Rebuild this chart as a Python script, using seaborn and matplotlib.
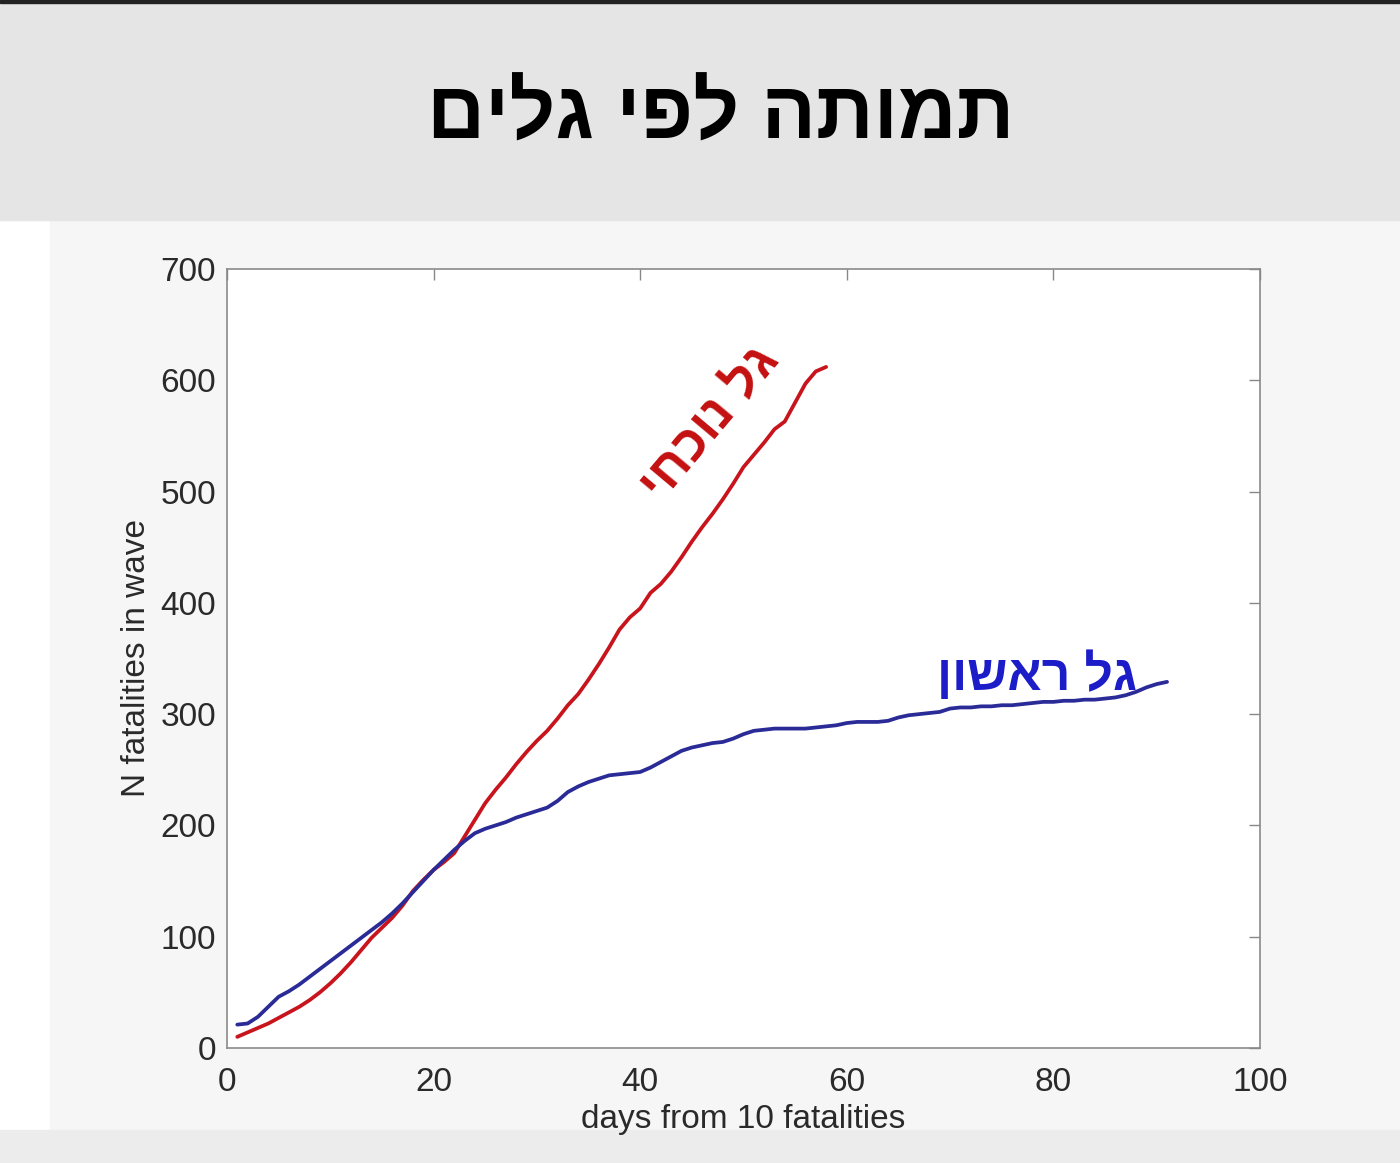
import matplotlib
matplotlib.use('Agg')
import matplotlib.pyplot as plt
from matplotlib.patches import Rectangle
import seaborn as sns
import pandas as pd

# days from 10 fatalities, cumulative fatalities
first_wave = [21, 22, 28, 37, 46, 51, 57, 64, 71, 78, 85, 92, 99, 106, 113,
              121, 130, 140, 150, 160, 169, 178, 186, 193, 197, 200, 203, 207,
              210, 213, 216, 222, 230, 235, 239, 242, 245, 246, 247, 248, 252,
              257, 262, 267, 270, 272, 274, 275, 278, 282, 285, 286, 287, 287,
              287, 287, 288, 289, 290, 292, 293, 293, 293, 294, 297, 299, 300,
              301, 302, 305, 306, 306, 307, 307, 308, 308, 309, 310, 311, 311,
              312, 312, 313, 313, 314, 315, 317, 320, 324, 327, 329]
current_wave = [10, 14, 18, 22, 27, 32, 37, 43, 50, 58, 67, 77, 88, 99, 108,
                117, 128, 141, 151, 160, 167, 175, 190, 205, 220, 232, 243,
                255, 266, 276, 285, 296, 308, 318, 331, 345, 360, 376, 387,
                395, 409, 417, 428, 441, 455, 468, 480, 493, 507, 522, 533,
                544, 556, 563, 580, 597, 608, 612]

title = "תמותה לפי גלים"
label_current = "גל נוכחי"
label_first = "גל ראשון"
x_label = "days from 10 fatalities"
y_label = "N fatalities in wave"
x_ticks = [0, 20, 40, 60, 80, 100]
y_ticks = [0, 100, 200, 300, 400, 500, 600, 700]


def visual(s):
    # matplotlib lays text out left to right, so flip the Hebrew by hand
    return s[::-1]


df = pd.concat([
    pd.DataFrame({'day': range(1, len(first_wave) + 1), 'n': first_wave, 'wave': 'first'}),
    pd.DataFrame({'day': range(1, len(current_wave) + 1), 'n': current_wave, 'wave': 'current'}),
])

sns.set_theme(style="white")
plt.rcParams['font.family'] = ['Liberation Sans', 'DejaVu Sans']

fig = plt.figure(figsize=(14, 11.63), dpi=100)
fig.patch.set_facecolor('white')
# slide background pieces, kept behind the axes
bg = [((0.036, 0.028), 0.964, 0.783, '#f6f6f6'),
      ((0, 0.811), 1, 0.186, '#e6e5e6'),
      ((0, 0.997), 1, 0.003, '#222222'),
      ((0, 0), 1, 0.028, '#ececec')]
for xy, w, h, c in bg:
    fig.patches.append(Rectangle(xy, w, h, transform=fig.transFigure,
                                 color=c, zorder=-10))

fig.text(0.515, 0.899, visual(title), ha='center', va='center',
         fontsize=58, fontweight='bold', color='black')

ax = fig.add_axes([0.1621, 0.0989, 0.7379, 0.6698])
ax.set_facecolor('white')
sns.lineplot(data=df, x='day', y='n', hue='wave',
             palette={'first': '#2b2b98', 'current': '#c8141c'},
             hue_order=['current', 'first'], linewidth=2.7, legend=False, ax=ax)

ax.set_xlim(0, 100)
ax.set_ylim(0, 700)
ax.set_xticks(x_ticks)
ax.set_yticks(y_ticks)
ax.tick_params(direction='in', length=8, width=1, color='#888888',
               top=True, right=True, labelsize=24, labelcolor='#2a2a2a', pad=8)
ax.tick_params(axis='x', pad=14)
for sp in ax.spines.values():
    sp.set_visible(True)
    sp.set_color('#8a8a8a')
    sp.set_linewidth(1.2)
ax.set_xlabel(x_label, fontsize=24, color='#2a2a2a', labelpad=4)
ax.set_ylabel(y_label, fontsize=24, color='#2a2a2a', labelpad=6)

ax.text(46.8, 561, visual(label_current), rotation=50, ha='center', va='center',
        fontsize=37, fontweight='bold', color='#c41010')
ax.text(78.4, 335, visual(label_first), ha='center', va='center',
        fontsize=36, fontweight='bold', color='#1c1cc8')

fig.savefig('out.png', dpi=100)
